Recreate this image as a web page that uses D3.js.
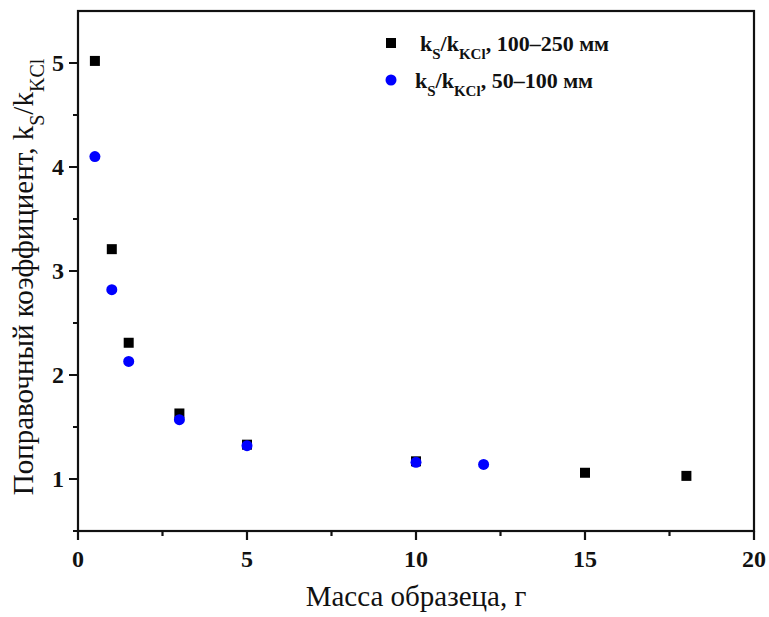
<!DOCTYPE html>
<html>
<head>
<meta charset="utf-8">
<script src="https://cdn.jsdelivr.net/npm/d3@7"></script>
<style>
  body { margin: 0; background: #fff; }
  svg { font-family: "Liberation Serif", "Times New Roman", serif; }
</style>
</head>
<body>
<svg id="graph" width="769" height="617"></svg>
<script>
// Series: 100-250 fraction (black squares)
const massBig = [0.5, 1, 1.5, 3, 5, 10, 15, 18];
const coefBig = [5.02, 3.21, 2.31, 1.63, 1.33, 1.17, 1.06, 1.03];
// Series: 50-100 fraction (blue circles)
const massSmall = [0.5, 1, 1.5, 3, 5, 10, 12];
const coefSmall = [4.10, 2.82, 2.13, 1.57, 1.32, 1.16, 1.14];

const xTicks = [0, 5, 10, 15, 20];
const yTicks = [1, 2, 3, 4, 5];
const xMinor = [2.5, 7.5, 12.5, 17.5];
const yMinor = [0.5, 1.5, 2.5, 3.5, 4.5];

const svg = d3.select("#graph");
const plotL = 78, plotR = 754, plotT = 11, plotB = 531;

const xScale = d3.scaleLinear().domain([0, 20]).range([plotL, plotR]);
const yScale = d3.scaleLinear().domain([0.5, 5.5]).range([plotB, plotT]);

// frame
svg.append("rect")
    .attr("x", plotL).attr("y", plotT)
    .attr("width", plotR - plotL).attr("height", plotB - plotT)
    .attr("fill", "none").attr("stroke", "#111").attr("stroke-width", 2.2);

// ticks (outside, bottom and left only) as one path
const tickLen = d => (d.major ? 9 : 5);
const xTickData = xTicks.map(v => ({ v: v, major: true })).concat(xMinor.map(v => ({ v: v, major: false })));
const yTickData = yTicks.map(v => ({ v: v, major: true })).concat(yMinor.map(v => ({ v: v, major: false })));
let tickPath = "";
xTickData.forEach(d => { tickPath += `M${xScale(d.v)},${plotB}v${tickLen(d)}`; });
yTickData.forEach(d => { tickPath += `M${plotL},${yScale(d.v)}h${-tickLen(d)}`; });
svg.append("path")
    .attr("d", tickPath)
    .attr("fill", "none").attr("stroke", "#111").attr("stroke-width", 2.2);

// tick labels
svg.append("g").selectAll("text")
    .data(xTicks).enter().append("text")
    .attr("x", d => xScale(d)).attr("y", 567)
    .attr("text-anchor", "middle")
    .style("font-size", "24px").style("font-weight", "bold").attr("fill", "#111")
    .text(d => d);
svg.append("g").selectAll("text")
    .data(yTicks).enter().append("text")
    .attr("x", 64).attr("y", d => yScale(d) + 8)
    .attr("text-anchor", "end")
    .style("font-size", "24px").style("font-weight", "bold").attr("fill", "#111")
    .text(d => d);

// axis titles
svg.append("text")
    .attr("x", 416).attr("y", 606)
    .attr("text-anchor", "middle")
    .style("font-size", "29px").attr("fill", "#111")
    .text("Масса образеца, г");

const yt = svg.append("text")
    .attr("text-anchor", "middle")
    .attr("transform", "translate(33, 277) rotate(-90)")
    .style("font-size", "29px").attr("fill", "#111");
yt.append("tspan").text("Поправочный коэффициент, k");
yt.append("tspan").attr("baseline-shift", "sub").style("font-size", "20px").text("S");
yt.append("tspan").text("/k");
yt.append("tspan").attr("baseline-shift", "sub").style("font-size", "20px").text("KCl");

// points
const big = massBig.map((m, i) => ({ m: m, k: coefBig[i] }));
const small = massSmall.map((m, i) => ({ m: m, k: coefSmall[i] }));

svg.append("g").selectAll("rect")
    .data(big).enter().append("rect")
    .attr("x", d => xScale(d.m) - 5)
    .attr("y", d => yScale(d.k) - 5)
    .attr("width", 10).attr("height", 10)
    .attr("fill", "#000");

svg.append("g").selectAll("circle")
    .data(small).enter().append("circle")
    .attr("cx", d => xScale(d.m))
    .attr("cy", d => yScale(d.k))
    .attr("r", 5.5)
    .attr("fill", "#0000ff");

// legend
function legendLabel(x, y, rest) {
    const t = svg.append("text")
        .attr("x", x).attr("y", y)
        .style("font-size", "22px").style("font-weight", "bold").attr("fill", "#111");
    t.append("tspan").text("k");
    t.append("tspan").attr("baseline-shift", "sub").style("font-size", "15px").text("S");
    t.append("tspan").text("/k");
    t.append("tspan").attr("baseline-shift", "sub").style("font-size", "15px").text("KCl");
    t.append("tspan").text(rest);
}
svg.append("rect").attr("x", 386).attr("y", 38).attr("width", 10).attr("height", 10).attr("fill", "#000");
legendLabel(420, 51, ", 100–250 мм");
svg.append("circle").attr("cx", 391).attr("cy", 80).attr("r", 5.5).attr("fill", "#0000ff");
legendLabel(415, 88, ", 50–100 мм");
</script>
</body>
</html>
